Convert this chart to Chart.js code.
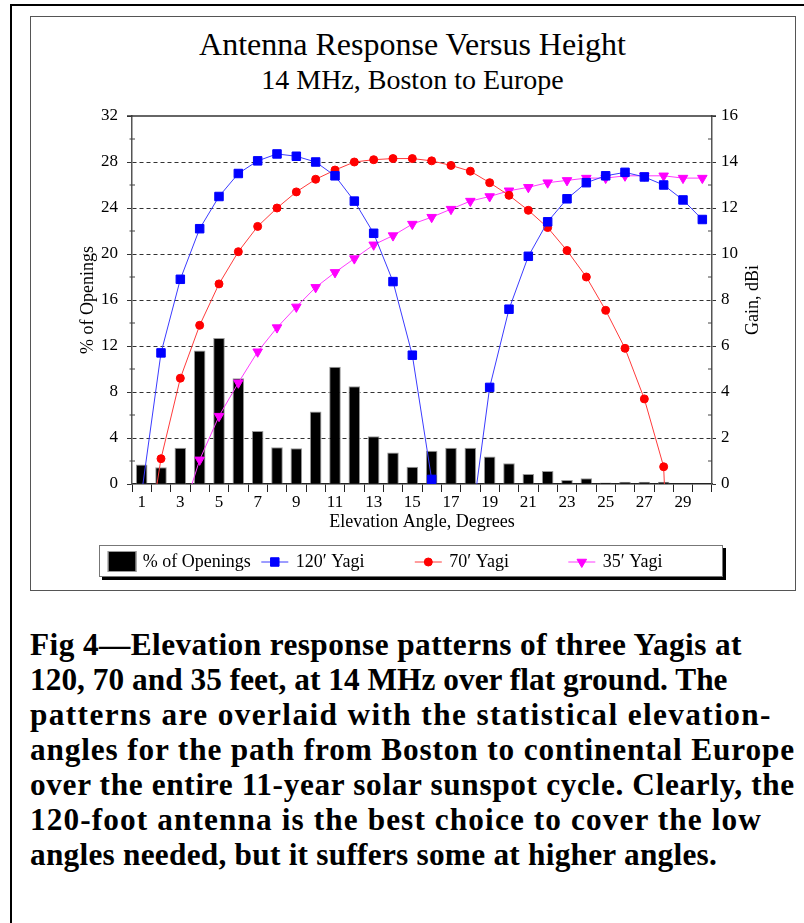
<!DOCTYPE html>
<html><head><meta charset="utf-8">
<script src="https://cdn.jsdelivr.net/npm/chart.js@4.4.1/dist/chart.umd.min.js"></script>
<style>
html,body{margin:0;padding:0;background:#fff;width:804px;height:923px;overflow:hidden;position:relative;font-family:"Liberation Serif","Times New Roman",serif;}
#frame{position:absolute;left:10px;top:4px;width:900px;height:1000px;border-left:2px solid #000;border-top:2px solid #000;}
#box{position:absolute;left:30px;top:16px;width:764px;height:573px;border:1px solid #555;}
#chartWrap{position:absolute;left:0;top:0;width:804px;height:600px;}
#c{width:804px;height:600px;display:block;}
.t{position:absolute;left:30px;width:765px;text-align:center;white-space:nowrap;color:#000;line-height:1;}
#title{top:28.2px;font-size:32px;}
#subtitle{top:65.5px;font-size:28px;}
#caption{position:absolute;left:30px;top:627px;font-weight:bold;font-size:31.3px;line-height:35px;white-space:nowrap;color:#000;}
#caption div{height:35px;}
</style></head>
<body>
<div id="frame"></div>
<div id="box"></div>
<div id="title" class="t">Antenna Response Versus Height</div>
<div id="subtitle" class="t">14 MHz, Boston to Europe</div>
<div id="chartWrap"><canvas id="c" width="804" height="600"></canvas></div>
<div id="caption">
<div style="letter-spacing:0.42px">Fig 4—Elevation response patterns of three Yagis at</div>
<div style="letter-spacing:0.04px">120, 70 and 35 feet, at 14 MHz over flat ground. The</div>
<div style="letter-spacing:1.38px">patterns are overlaid with the statistical elevation-</div>
<div style="letter-spacing:0.85px">angles for the path from Boston to continental Europe</div>
<div style="letter-spacing:0.65px">over the entire 11-year solar sunspot cycle. Clearly, the</div>
<div style="letter-spacing:1.1px">120-foot antenna is the best choice to cover the low</div>
<div style="letter-spacing:0.25px">angles needed, but it suffers some at higher angles.</div>
</div>
<script>
// ---- data ----
const categories = [1,2,3,4,5,6,7,8,9,10,11,12,13,14,15,16,17,18,19,20,21,22,23,24,25,26,27,28,29,30];
const openings = [1.7,1.45,3.15,11.6,12.7,9.2,4.6,3.2,3.1,6.3,10.2,8.5,4.15,2.75,1.5,2.9,3.15,3.15,2.4,1.8,0.87,1.13,0.35,0.5,0.14,0.2,0.2,0.2,0,0];
const gain120 = [-0.4,5.7,8.9,11.1,12.5,13.5,14.05,14.35,14.25,14.0,13.4,12.3,10.9,8.8,5.6,0.2,-6,-2.1,4.2,7.6,9.9,11.4,12.4,13.1,13.4,13.55,13.35,13.0,12.35,11.5];
const gain70 = [-4.2,1.1,4.6,6.9,8.7,10.1,11.2,12.0,12.7,13.25,13.65,14.0,14.1,14.15,14.15,14.05,13.85,13.6,13.1,12.55,11.9,11.15,10.15,9.0,7.55,5.9,3.7,0.75,-20,-9];
const gain35 = [-5.5,-3.0,-1.6,1.05,2.95,4.4,5.75,6.8,7.7,8.55,9.2,9.8,10.4,10.8,11.3,11.6,11.95,12.3,12.5,12.75,12.9,13.1,13.2,13.3,13.3,13.4,13.4,13.4,13.3,13.3];
const pctTicks = [0,4,8,12,16,20,24,28,32];
const pctMinor = [2,6,10,14,18,22,26,30];
const gainTicks = [0,2,4,6,8,10,12,14,16];
const gainMinor = [1,3,5,7,9,11,13,15];

const FONT = '"Liberation Serif","Times New Roman",serif';
const lineClip = {left: 8, top: 8, right: 8, bottom: 0};

const extras = {
  id: 'extras',
  afterDraw(chart) {
    const {ctx, chartArea: a, scales} = chart;
    ctx.save();
    // top frame line
    ctx.strokeStyle = '#333'; ctx.lineWidth = 1.5; ctx.setLineDash([]);
    ctx.beginPath(); ctx.moveTo(a.left - 5, a.top); ctx.lineTo(a.right + 4, a.top); ctx.stroke();
    // minor ticks
    ctx.lineWidth = 1; ctx.strokeStyle = '#444';
    pctMinor.forEach(v => {
      const y = scales.y.getPixelForValue(v);
      ctx.beginPath(); ctx.moveTo(a.left - 2.5, y); ctx.lineTo(a.left + 3, y); ctx.stroke();
    });
    gainMinor.forEach(v => {
      const y = scales.y2.getPixelForValue(v);
      ctx.beginPath(); ctx.moveTo(a.right - 4, y); ctx.lineTo(a.right, y); ctx.stroke();
    });
    // right axis title (reads bottom to top)
    ctx.fillStyle = '#000';
    ctx.font = '18px ' + FONT;
    ctx.textAlign = 'center'; ctx.textBaseline = 'middle';
    ctx.save();
    ctx.translate(scales.y2.right - 9, (a.top + a.bottom) / 2);
    ctx.rotate(-Math.PI / 2);
    ctx.fillText('Gain, dBi', 0, 0);
    ctx.restore();
    // legend box
    const bx = 99, by = 545, bw = 624, bh = 32;
    ctx.fillStyle = '#000'; ctx.fillRect(bx + 3, by + 3, bw, bh);
    ctx.fillStyle = '#fff'; ctx.fillRect(bx, by, bw, bh);
    ctx.strokeStyle = '#777'; ctx.lineWidth = 1;
    ctx.strokeRect(bx + 0.5, by + 0.5, bw - 1, bh - 1);
    const cy = by + 17;
    ctx.font = '18px ' + FONT; ctx.textAlign = 'left'; ctx.textBaseline = 'middle';
    chart.data.datasets.forEach((ds, i) => {
      const x0 = 107.8 + i * 153.5;
      if (ds.type === 'bar') {
        ctx.fillStyle = '#000'; ctx.fillRect(x0, cy - 11, 28.5, 21);
        ctx.strokeStyle = '#999'; ctx.strokeRect(x0 + 0.5, cy - 10.5, 27.5, 20);
        ctx.fillStyle = '#000'; ctx.fillText(ds.label, x0 + 35, cy);
      } else {
        ctx.strokeStyle = ds.borderColor; ctx.lineWidth = 1;
        ctx.beginPath(); ctx.moveTo(x0, cy); ctx.lineTo(x0 + 27, cy); ctx.stroke();
        ctx.fillStyle = ds.pointBackgroundColor; ctx.strokeStyle = ds.pointBorderColor;
        Chart.helpers.drawPoint(ctx, {pointStyle: ds.pointStyle, rotation: ds.pointRotation || 0, radius: ds.pointRadius, borderWidth: 1}, x0 + 13.5, cy);
        ctx.fillStyle = '#000'; ctx.fillText(ds.label, x0 + 34.5, cy);
      }
    });
    ctx.restore();
  }
};

new Chart(document.getElementById('c'), {
  type: 'bar',
  data: {
    labels: categories,
    datasets: [
      {type: 'bar', label: '% of Openings', data: openings, yAxisID: 'y', backgroundColor: '#000', borderColor: '#9a9a9a', borderWidth: 1, barPercentage: 0.6, categoryPercentage: 1, order: 1},
      {type: 'line', label: '120\u2032 Yagi', data: gain120, yAxisID: 'y2', borderColor: '#3b3bff', borderWidth: 1, pointStyle: 'rect', pointRadius: 6, pointBackgroundColor: '#0000ff', pointBorderColor: '#0000ff', pointBorderWidth: 1, tension: 0, clip: lineClip, order: 0},
      {type: 'line', label: '70\u2032 Yagi', data: gain70, yAxisID: 'y2', borderColor: '#ff3b3b', borderWidth: 1, pointStyle: 'circle', pointRadius: 4, pointBackgroundColor: '#ff0000', pointBorderColor: '#ff0000', pointBorderWidth: 1, tension: 0, clip: lineClip, order: 0},
      {type: 'line', label: '35\u2032 Yagi', data: gain35, yAxisID: 'y2', borderColor: '#ff3bff', borderWidth: 1, pointStyle: 'triangle', pointRotation: 180, pointRadius: 5.5, pointBackgroundColor: '#ff00ff', pointBorderColor: '#ff00ff', pointBorderWidth: 1, tension: 0, clip: lineClip, order: 0}
    ]
  },
  options: {
    responsive: false,
    animation: false,
    events: [],
    layout: {padding: {left: 79, right: 42, top: 116, bottom: 69}},
    plugins: {legend: {display: false}, tooltip: {enabled: false}, title: {display: false}},
    scales: {
      x: {
        type: 'category', offset: true,
        grid: {offset: true, drawOnChartArea: false, drawTicks: true, tickLength: 8, tickColor: '#222', tickWidth: 1, tickBorderDash: []},
        border: {display: true, color: '#222', width: 1.5},
        ticks: {autoSkip: false, maxRotation: 0, minRotation: 0, padding: 0, color: '#000', font: {family: FONT, size: 17},
          callback: function(v, i) { return i % 2 === 0 ? String(categories[i]) : ''; }},
        title: {display: true, text: 'Elevation Angle, Degrees', color: '#000', font: {family: FONT, size: 18, lineHeight: 1}, padding: 0},
        afterFit(s) { s.height = 47; }
      },
      y: {
        position: 'left', min: 0, max: 32,
        afterBuildTicks(s) { s.ticks = pctTicks.map(v => ({value: v})); },
        grid: {color: c => (c.tick && (c.tick.value === 0 || c.tick.value === 32)) ? 'rgba(0,0,0,0)' : '#333', lineWidth: 1, tickColor: '#333', tickLength: 5, tickWidth: 1, tickBorderDash: []},
        border: {display: true, color: '#555', width: 1.5, dash: [4, 3]},
        ticks: {padding: 9, color: '#000', font: {family: FONT, size: 17}},
        title: {display: true, text: '% of Openings', color: '#000', font: {family: FONT, size: 18, lineHeight: 1}, padding: 0},
        afterFit(s) { s.width = 53; }
      },
      y2: {
        position: 'right', min: 0, max: 16,
        afterBuildTicks(s) { s.ticks = gainTicks.map(v => ({value: v})); },
        grid: {drawOnChartArea: false, tickColor: '#333', tickLength: 4, tickWidth: 1, tickBorderDash: []},
        border: {display: true, color: '#555', width: 1.5},
        ticks: {padding: 5, color: '#000', font: {family: FONT, size: 17}},
        afterFit(s) { s.width = 50; }
      }
    }
  },
  plugins: [extras]
});
</script>
</body></html>
